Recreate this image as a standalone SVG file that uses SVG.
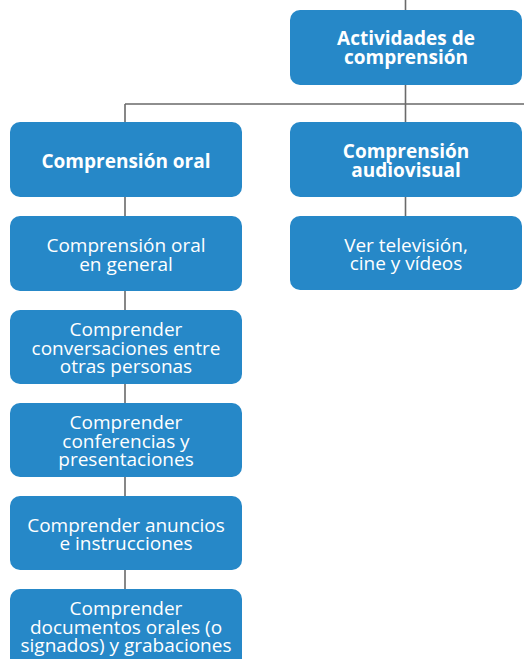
<svg xmlns="http://www.w3.org/2000/svg" width="524" height="659" viewBox="0 0 524 659">
<style>
.box{fill:#2688c8}
.t{font-family:"Open Sans","Noto Sans",sans-serif;font-size:19px;fill:#fff;text-anchor:middle}
.b{font-weight:bold}
.c{stroke:#6a6a6a;stroke-width:1.6;fill:none}
</style>
<rect width="524" height="659" fill="#fff"/>
<g id="connectors">
<path class="c" d="M405.5 0V122M125 104H524M125 104V122M125 197V589M405.5 197V216"/>
</g>
<g id="n-actividades"><rect class="box" x="290" y="10" width="232" height="75" rx="10"/>
<text class="t b" x="406" y="45">Actividades de<tspan x="406" dy="19">comprensión</tspan></text></g>
<g id="n-oral"><rect class="box" x="10" y="122" width="232" height="75" rx="10"/>
<text class="t b" x="126" y="168">Comprensión oral</text></g>
<g id="n-audiovisual"><rect class="box" x="290" y="122" width="232" height="75" rx="10"/>
<text class="t b" x="406" y="158">Comprensión<tspan x="406" dy="19">audiovisual</tspan></text></g>
<g id="n-general"><rect class="box" x="10" y="216" width="232" height="75" rx="10"/>
<text class="t" x="126" y="252">Comprensión oral<tspan x="126" dy="18.7">en general</tspan></text></g>
<g id="n-tv"><rect class="box" x="290" y="216" width="232" height="74" rx="10"/>
<text class="t" x="406" y="251.5">Ver televisión,<tspan x="406" dy="18.7">cine y vídeos</tspan></text></g>
<g id="n-conversaciones"><rect class="box" x="10" y="310" width="232" height="74" rx="10"/>
<text class="t" x="126" y="336">Comprender<tspan x="126" dy="18.5">conversaciones entre</tspan><tspan x="126" dy="18.5">otras personas</tspan></text></g>
<g id="n-conferencias"><rect class="box" x="10" y="403" width="232" height="74" rx="10"/>
<text class="t" x="126" y="429">Comprender<tspan x="126" dy="18.5">conferencias y</tspan><tspan x="126" dy="18.5">presentaciones</tspan></text></g>
<g id="n-anuncios"><rect class="box" x="10" y="496" width="232" height="74" rx="10"/>
<text class="t" x="126" y="531.5">Comprender anuncios<tspan x="126" dy="18.5">e instrucciones</tspan></text></g>
<g id="n-documentos"><rect class="box" x="10" y="589" width="232" height="85" rx="10"/>
<text class="t" x="126" y="615">Comprender<tspan x="126" dy="18.5">documentos orales (o</tspan><tspan x="126" dy="18.5">signados) y grabaciones</tspan></text></g>
</svg>
